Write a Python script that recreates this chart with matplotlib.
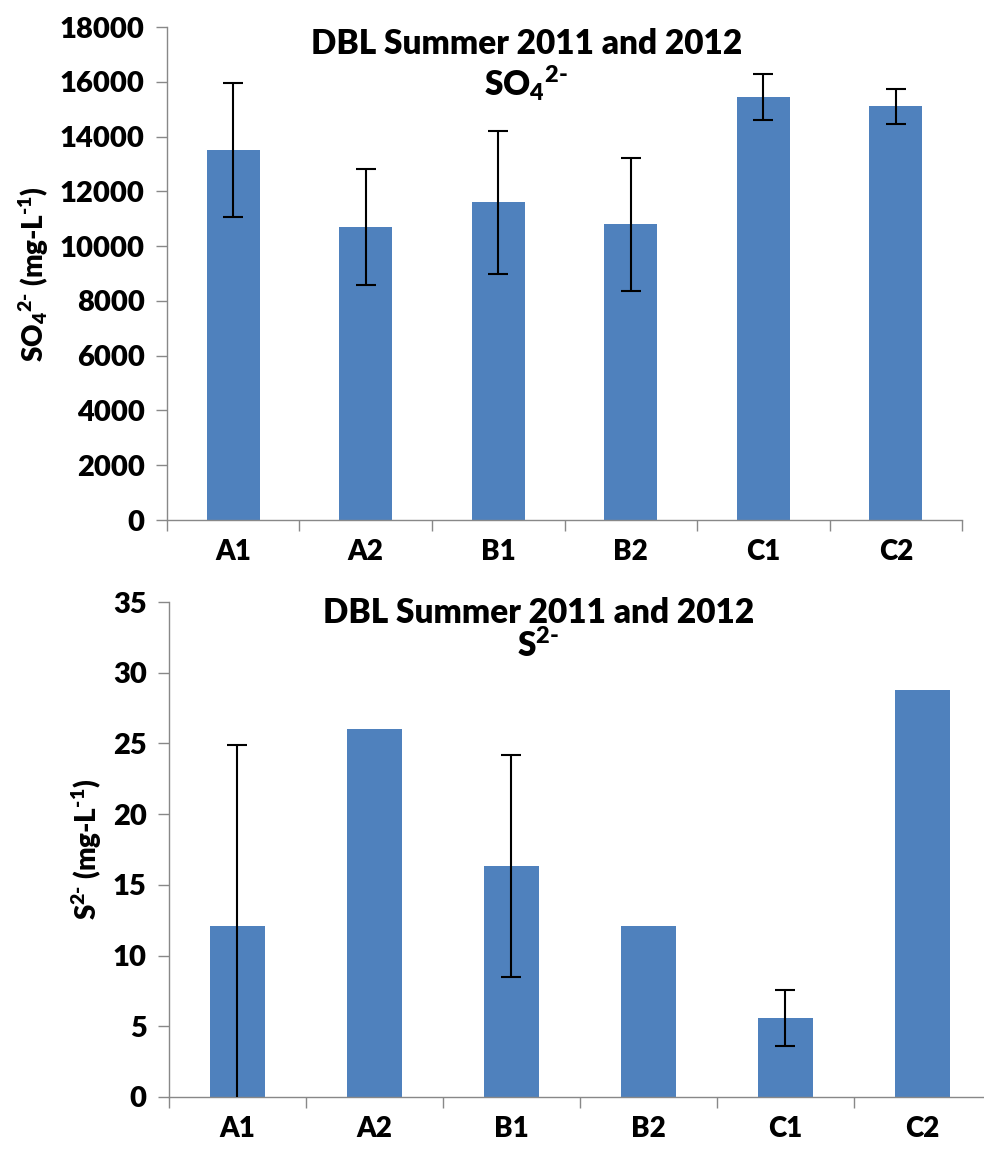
import matplotlib
matplotlib.use("Agg")
import matplotlib.pyplot as plt
import numpy as np

# Dados
sites = ["A1", "A2", "B1", "B2", "C1", "C2"]
so4_mean = [13500, 10700, 11600, 10800, 15450, 15100]
so4_err = [2450, 2125, 2600, 2425, 850, 650]
s2_mean = [12.1, 26.0, 16.3, 12.1, 5.6, 28.8]
s2_err = [12.8, 0, 7.85, 0, 2.0, 0]

bar_color = "#4F81BD"
plt.rcParams["font.family"] = ["Lato", "DejaVu Sans"]
plt.rcParams["font.weight"] = "heavy"
plt.rcParams["axes.labelweight"] = "heavy"
plt.rcParams["mathtext.fontset"] = "custom"
plt.rcParams["mathtext.rm"] = "Lato:heavy"
plt.rcParams["mathtext.it"] = "Lato:heavy"
plt.rcParams["mathtext.bf"] = "Lato:heavy"

fig = plt.figure(figsize=(9.84, 11.5), dpi=100)
ax1 = fig.add_axes([0.1697, 0.5478, 0.808, 0.4287])
ax2 = fig.add_axes([0.1717, 0.0461, 0.835, 0.4304])


def style_axis(ax, ymax, step):
    x = np.arange(len(sites))
    ax.set_xlim(-0.5, len(sites) - 0.5)
    ax.set_ylim(0, ymax)
    ax.set_yticks(np.arange(0, ymax + step, step))
    ax.set_xticks(x)
    ax.set_xticklabels(sites)
    ax.set_xticks(np.arange(-0.5, len(sites), 1.0), minor=True)
    ax.tick_params(axis="x", which="major", length=0, pad=14, labelsize=20)
    ax.tick_params(axis="x", which="minor", length=8, color="#888888", width=1)
    ax.tick_params(axis="y", length=8, color="#888888", width=1, labelsize=21, pad=8)
    for s in ["top", "right"]:
        ax.spines[s].set_visible(False)
    for s in ["left", "bottom"]:
        ax.spines[s].set_color("#888888")
        ax.spines[s].set_linewidth(1)


# Painel superior: SO4
x = np.arange(len(sites))
ax1.bar(x, so4_mean, width=0.4, color=bar_color, zorder=2)
ax1.errorbar(x, so4_mean, yerr=so4_err, fmt="none", ecolor="black",
             elinewidth=1.5, capsize=7, capthick=1.5, zorder=3)
style_axis(ax1, 18000, 2000)
ax1.set_ylabel(r"SO$_4$$^{2\text{-}}$ (mg-L$^{\text{-}1}$)", fontsize=20,
               fontweight="heavy", labelpad=6)
fig.text(0.535, 0.962, "DBL Summer 2011 and 2012", ha="center", va="center", fontsize=24)
fig.text(0.535, 0.928, r"SO$_4$$^{2\text{-}}$", ha="center", va="center", fontsize=24)

# Painel inferior: S2-
mask = np.array(s2_err) > 0
ax2.bar(x, s2_mean, width=0.4, color=bar_color, zorder=2)
ax2.errorbar(x[mask], np.array(s2_mean)[mask], yerr=np.array(s2_err)[mask],
             fmt="none", ecolor="black", elinewidth=1.5, capsize=7, capthick=1.5, zorder=3)
style_axis(ax2, 35, 5)
ax2.set_ylabel(r"S$^{2\text{-}}$ (mg-L$^{\text{-}1}$)", fontsize=20,
               fontweight="heavy", labelpad=6)
fig.text(0.547, 0.467, "DBL Summer 2011 and 2012", ha="center", va="center", fontsize=24)
fig.text(0.547, 0.438, r"S$^{2\text{-}}$", ha="center", va="center", fontsize=24)

fig.savefig("out.png", dpi=100)
